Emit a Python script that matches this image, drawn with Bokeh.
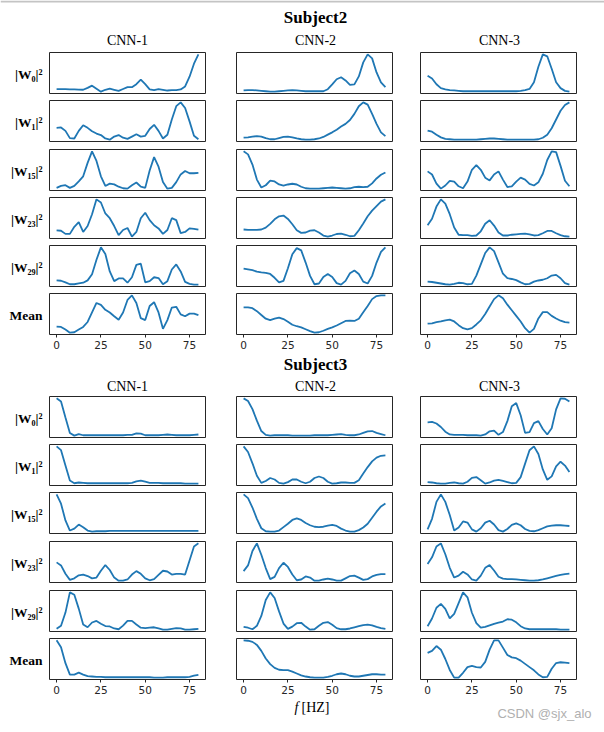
from bokeh.plotting import figure
from bokeh.layouts import column, row
from bokeh.models import Range1d, DataRange1d, LinearAxis, FixedTicker, Span
from bokeh.core.properties import value
from bokeh.embed import file_html
from bokeh.resources import INLINE

# ---------------- data ----------------
freq = [0.0, 2.5, 5.0, 7.5, 10.0, 12.5, 15.0, 17.5, 20.0, 22.5, 25.0, 27.5, 30.0,
        32.5, 35.0, 37.5, 40.0, 42.5, 45.0, 47.5, 50.0, 52.5, 55.0, 57.5, 60.0,
        62.5, 65.0, 67.5, 70.0, 72.5, 75.0, 77.5, 80.0]
xticks = [0, 25, 50, 75]
subjects = ["Subject2", "Subject3"]
models = ["CNN-1", "CNN-2", "CNN-3"]
row_labels = ["|W\u2080|\u00b2", "|W\u2081|\u00b2", "|W\u2081\u2085|\u00b2",
              "|W\u2082\u2083|\u00b2", "|W\u2082\u2089|\u00b2", "Mean"]

# Subject2, CNN-1
s2_c1_w0 = [0.07, 0.07, 0.065, 0.06, 0.06, 0.055, 0.05, 0.1, 0.16, 0.08, 0.0, 0.05, 0.08, 0.05, 0.02, 0.07, 0.12,
            0.12, 0.2, 0.32, 0.2, 0.06, 0.04, 0.07, 0.05, 0.03, 0.04, 0.04, 0.06, 0.14, 0.4, 0.75, 1.0]
s2_c1_w1 = [0.33, 0.34, 0.25, 0.06, 0.05, 0.25, 0.4, 0.33, 0.24, 0.18, 0.14, 0.05, 0.02, 0.1, 0.14, 0.07, 0.04,
            0.1, 0.16, 0.1, 0.12, 0.3, 0.41, 0.25, 0.05, 0.15, 0.55, 0.9, 1.0, 0.85, 0.5, 0.12, 0.03]
s2_c1_w15 = [0.05, 0.1, 0.12, 0.05, 0.1, 0.22, 0.35, 0.7, 1.0, 0.75, 0.35, 0.1, 0.16, 0.14, 0.08, 0.04, 0.03,
             0.12, 0.19, 0.08, 0.05, 0.5, 0.85, 0.6, 0.2, 0.03, 0.05, 0.2, 0.4, 0.49, 0.43, 0.43, 0.44]
s2_c1_w23 = [0.19, 0.18, 0.1, 0.1, 0.28, 0.4, 0.15, 0.3, 0.6, 0.98, 0.9, 0.62, 0.5, 0.3, 0.07, 0.2, 0.25,
             0.03, 0.15, 0.5, 0.64, 0.45, 0.32, 0.24, 0.1, 0.2, 0.5, 0.45, 0.12, 0.15, 0.24, 0.23, 0.21]
s2_c1_w29 = [0.12, 0.11, 0.07, 0.02, 0.02, 0.04, 0.06, 0.12, 0.28, 0.65, 0.97, 0.8, 0.35, 0.1, 0.17, 0.17, 0.06,
             0.2, 0.52, 0.55, 0.07, 0.1, 0.2, 0.18, 0.02, 0.1, 0.4, 0.53, 0.35, 0.08, 0.03, 0.01, 0.01]
s2_c1_mean = [0.18, 0.17, 0.1, 0.02, 0.03, 0.1, 0.17, 0.3, 0.55, 0.8, 0.75, 0.62, 0.55, 0.45, 0.36, 0.55, 0.88,
              1.0, 0.8, 0.4, 0.35, 0.72, 0.82, 0.55, 0.12, 0.35, 0.68, 0.7, 0.5, 0.45, 0.52, 0.52, 0.48]
# Subject2, CNN-2
s2_c2_w0 = [0.1, 0.11, 0.11, 0.1, 0.09, 0.08, 0.07, 0.07, 0.08, 0.09, 0.1, 0.11, 0.1, 0.09, 0.08, 0.08, 0.08,
            0.08, 0.08, 0.13, 0.25, 0.38, 0.43, 0.35, 0.24, 0.25, 0.45, 0.8, 1.0, 0.9, 0.55, 0.3, 0.18]
s2_c2_w1 = [0.06, 0.07, 0.09, 0.1, 0.09, 0.05, 0.02, 0.02, 0.05, 0.08, 0.09, 0.07, 0.04, 0.02, 0.01, 0.01, 0.02,
            0.04, 0.08, 0.14, 0.2, 0.27, 0.35, 0.42, 0.52, 0.68, 0.88, 0.98, 0.92, 0.68, 0.42, 0.2, 0.1]
s2_c2_w15 = [1.0, 0.92, 0.65, 0.25, 0.04, 0.1, 0.22, 0.2, 0.12, 0.09, 0.12, 0.14, 0.12, 0.06, 0.02, 0.01, 0.01,
             0.01, 0.02, 0.03, 0.04, 0.03, 0.02, 0.01, 0.02, 0.05, 0.06, 0.05, 0.06, 0.15, 0.28, 0.38, 0.44]
s2_c2_w23 = [0.2, 0.19, 0.19, 0.19, 0.2, 0.25, 0.35, 0.47, 0.55, 0.57, 0.48, 0.34, 0.18, 0.11, 0.12, 0.17, 0.18,
             0.12, 0.04, 0.01, 0.04, 0.08, 0.09, 0.06, 0.02, 0.03, 0.18, 0.36, 0.55, 0.7, 0.82, 0.94, 1.0]
s2_c2_w29 = [0.44, 0.42, 0.4, 0.36, 0.34, 0.33, 0.3, 0.2, 0.08, 0.12, 0.45, 0.82, 0.98, 0.92, 0.6, 0.25, 0.03,
             0.05, 0.22, 0.3, 0.22, 0.06, 0.02, 0.12, 0.32, 0.39, 0.3, 0.1, 0.05, 0.25, 0.6, 0.88, 1.0]
s2_c2_mean = [0.68, 0.68, 0.66, 0.58, 0.48, 0.38, 0.34, 0.38, 0.41, 0.37, 0.3, 0.22, 0.18, 0.15, 0.1, 0.05, 0.01,
              0.02, 0.06, 0.11, 0.15, 0.2, 0.26, 0.32, 0.33, 0.32, 0.38, 0.55, 0.72, 0.9, 0.98, 1.0, 1.0]
# Subject2, CNN-3
s2_c3_w0 = [0.42, 0.35, 0.2, 0.1, 0.07, 0.05, 0.04, 0.03, 0.02, 0.02, 0.02, 0.02, 0.02, 0.02, 0.02, 0.02, 0.02,
            0.02, 0.02, 0.02, 0.02, 0.03, 0.05, 0.08, 0.25, 0.65, 0.97, 0.92, 0.6, 0.25, 0.1, 0.03, 0.01]
s2_c3_w1 = [0.26, 0.23, 0.15, 0.08, 0.04, 0.03, 0.02, 0.02, 0.02, 0.02, 0.02, 0.02, 0.03, 0.04, 0.05, 0.05, 0.04,
            0.03, 0.02, 0.02, 0.02, 0.02, 0.02, 0.02, 0.02, 0.03, 0.07, 0.15, 0.32, 0.55, 0.78, 0.93, 1.0]
s2_c3_w15 = [0.46, 0.38, 0.15, 0.02, 0.1, 0.22, 0.2, 0.08, 0.03, 0.2, 0.5, 0.62, 0.5, 0.3, 0.23, 0.38, 0.46,
             0.25, 0.06, 0.08, 0.2, 0.3, 0.25, 0.14, 0.1, 0.18, 0.4, 0.75, 0.97, 0.95, 0.6, 0.22, 0.08]
s2_c3_w23 = [0.31, 0.48, 0.8, 0.99, 0.88, 0.6, 0.25, 0.06, 0.05, 0.05, 0.03, 0.04, 0.15, 0.35, 0.44, 0.3, 0.12,
             0.04, 0.04, 0.06, 0.07, 0.08, 0.09, 0.07, 0.04, 0.05, 0.1, 0.16, 0.16, 0.1, 0.05, 0.02, 0.01]
s2_c3_w29 = [0.09, 0.08, 0.06, 0.04, 0.02, 0.01, 0.03, 0.06, 0.05, 0.02, 0.03, 0.25, 0.55, 0.85, 1.0, 0.9, 0.6,
             0.3, 0.18, 0.16, 0.13, 0.07, 0.02, 0.03, 0.09, 0.12, 0.14, 0.18, 0.25, 0.27, 0.18, 0.05, 0.01]
s2_c3_mean = [0.24, 0.25, 0.28, 0.3, 0.33, 0.35, 0.3, 0.2, 0.12, 0.09, 0.12, 0.22, 0.33, 0.5, 0.7, 0.9, 1.0,
              0.92, 0.75, 0.6, 0.45, 0.3, 0.12, 0.0, 0.1, 0.38, 0.55, 0.55, 0.45, 0.38, 0.32, 0.28, 0.27]
# Subject3, CNN-1
s3_c1_w0 = [1.0, 0.92, 0.5, 0.1, 0.03, 0.07, 0.04, 0.04, 0.04, 0.04, 0.04, 0.04, 0.04, 0.04, 0.04, 0.04, 0.05,
            0.05, 0.09, 0.08, 0.04, 0.04, 0.04, 0.04, 0.05, 0.06, 0.05, 0.04, 0.04, 0.04, 0.04, 0.05, 0.06]
s3_c1_w1 = [1.0, 0.9, 0.5, 0.1, 0.03, 0.05, 0.04, 0.03, 0.03, 0.03, 0.03, 0.03, 0.03, 0.03, 0.03, 0.03, 0.03,
            0.04, 0.08, 0.1, 0.07, 0.04, 0.04, 0.04, 0.03, 0.03, 0.03, 0.03, 0.03, 0.02, 0.02, 0.02, 0.02]
s3_c1_w15 = [1.0, 0.75, 0.3, 0.03, 0.08, 0.19, 0.12, 0.03, 0.0, 0.01, 0.01, 0.01, 0.02, 0.02, 0.02, 0.02, 0.02,
             0.02, 0.02, 0.02, 0.02, 0.02, 0.02, 0.02, 0.02, 0.02, 0.02, 0.02, 0.02, 0.02, 0.02, 0.02, 0.02]
s3_c1_w23 = [0.5, 0.42, 0.2, 0.04, 0.08, 0.16, 0.18, 0.14, 0.08, 0.1, 0.28, 0.43, 0.3, 0.1, 0.02, 0.02, 0.05,
             0.18, 0.27, 0.2, 0.08, 0.03, 0.06, 0.17, 0.28, 0.26, 0.18, 0.2, 0.2, 0.18, 0.55, 0.92, 1.0]
s3_c1_w29 = [0.04, 0.12, 0.45, 0.96, 0.9, 0.55, 0.15, 0.08, 0.2, 0.24, 0.17, 0.11, 0.1, 0.05, 0.03, 0.12, 0.24,
             0.24, 0.15, 0.07, 0.06, 0.07, 0.08, 0.05, 0.02, 0.02, 0.04, 0.06, 0.05, 0.02, 0.02, 0.03, 0.04]
s3_c1_mean = [1.0, 0.82, 0.4, 0.1, 0.1, 0.15, 0.1, 0.06, 0.05, 0.04, 0.04, 0.03, 0.03, 0.03, 0.03, 0.03, 0.03,
              0.03, 0.03, 0.03, 0.03, 0.03, 0.02, 0.02, 0.02, 0.03, 0.03, 0.03, 0.03, 0.03, 0.04, 0.07, 0.09]
# Subject3, CNN-2
s3_c2_w0 = [1.0, 0.93, 0.72, 0.42, 0.15, 0.05, 0.03, 0.04, 0.04, 0.04, 0.04, 0.03, 0.03, 0.03, 0.03, 0.03, 0.04,
            0.04, 0.04, 0.04, 0.05, 0.06, 0.07, 0.05, 0.04, 0.04, 0.06, 0.1, 0.14, 0.15, 0.1, 0.07, 0.04]
s3_c2_w1 = [1.0, 0.85, 0.55, 0.22, 0.03, 0.08, 0.16, 0.12, 0.03, 0.01, 0.05, 0.12, 0.12, 0.06, 0.02, 0.06, 0.16,
            0.2, 0.16, 0.06, 0.01, 0.02, 0.04, 0.04, 0.03, 0.03, 0.1, 0.28, 0.45, 0.6, 0.7, 0.75, 0.76]
s3_c2_w15 = [1.0, 0.9, 0.65, 0.35, 0.1, 0.02, 0.01, 0.01, 0.04, 0.13, 0.22, 0.32, 0.36, 0.32, 0.24, 0.18, 0.14,
             0.13, 0.14, 0.17, 0.19, 0.16, 0.09, 0.04, 0.01, 0.01, 0.05, 0.12, 0.22, 0.38, 0.54, 0.68, 0.76]
s3_c2_w23 = [0.27, 0.42, 0.8, 1.0, 0.7, 0.35, 0.06, 0.12, 0.35, 0.49, 0.38, 0.18, 0.03, 0.05, 0.13, 0.1, 0.02,
             0.02, 0.05, 0.07, 0.05, 0.02, 0.02, 0.08, 0.14, 0.15, 0.1, 0.04, 0.06, 0.13, 0.17, 0.19, 0.19]
s3_c2_w29 = [0.09, 0.07, 0.03, 0.12, 0.38, 0.8, 1.0, 0.85, 0.5, 0.18, 0.04, 0.1, 0.19, 0.2, 0.1, 0.02, 0.03,
             0.12, 0.2, 0.22, 0.15, 0.06, 0.03, 0.03, 0.05, 0.08, 0.11, 0.14, 0.15, 0.13, 0.09, 0.06, 0.04]
s3_c2_mean = [1.0, 0.99, 0.96, 0.88, 0.72, 0.52, 0.37, 0.27, 0.22, 0.21, 0.21, 0.17, 0.12, 0.07, 0.04, 0.02, 0.01,
              0.01, 0.01, 0.03, 0.06, 0.1, 0.12, 0.1, 0.06, 0.04, 0.04, 0.06, 0.08, 0.1, 0.1, 0.09, 0.09]
# Subject3, CNN-3
s3_c3_w0 = [0.37, 0.38, 0.34, 0.25, 0.13, 0.06, 0.05, 0.05, 0.05, 0.04, 0.04, 0.04, 0.03, 0.06, 0.14, 0.16, 0.05,
            0.12, 0.4, 0.78, 0.86, 0.55, 0.1, 0.12, 0.35, 0.4, 0.2, 0.06, 0.22, 0.7, 0.98, 0.97, 0.9]
s3_c3_w1 = [0.07, 0.06, 0.04, 0.03, 0.03, 0.05, 0.06, 0.04, 0.03, 0.08, 0.18, 0.2, 0.12, 0.03, 0.06, 0.11, 0.13,
            0.1, 0.07, 0.04, 0.05, 0.2, 0.55, 0.9, 1.0, 0.8, 0.4, 0.13, 0.22, 0.48, 0.6, 0.5, 0.33]
s3_c3_w15 = [0.07, 0.35, 0.8, 1.0, 0.8, 0.45, 0.04, 0.12, 0.28, 0.25, 0.07, 0.01, 0.1, 0.25, 0.3, 0.2, 0.05,
             0.01, 0.08, 0.19, 0.23, 0.18, 0.08, 0.03, 0.02, 0.05, 0.1, 0.15, 0.17, 0.18, 0.18, 0.17, 0.16]
s3_c3_w23 = [0.45, 0.62, 0.9, 0.98, 0.7, 0.35, 0.1, 0.15, 0.25, 0.18, 0.05, 0.02, 0.15, 0.35, 0.42, 0.28, 0.12,
             0.07, 0.06, 0.06, 0.05, 0.04, 0.03, 0.02, 0.02, 0.03, 0.05, 0.08, 0.11, 0.14, 0.17, 0.19, 0.2]
s3_c3_w29 = [0.1, 0.3, 0.58, 0.68, 0.55, 0.3, 0.42, 0.7, 0.98, 0.85, 0.45, 0.18, 0.06, 0.08, 0.12, 0.16, 0.19,
             0.22, 0.28, 0.27, 0.2, 0.1, 0.04, 0.02, 0.02, 0.02, 0.02, 0.02, 0.02, 0.02, 0.01, 0.01, 0.01]
s3_c3_mean = [0.67, 0.72, 0.84, 0.75, 0.52, 0.25, 0.06, 0.06, 0.18, 0.32, 0.35, 0.32, 0.31, 0.45, 0.75, 0.98, 0.98,
              0.8, 0.62, 0.56, 0.54, 0.48, 0.4, 0.32, 0.24, 0.14, 0.07, 0.08, 0.28, 0.42, 0.44, 0.43, 0.42]

subject_rows = {
    "Subject2": [[s2_c1_w0, s2_c2_w0, s2_c3_w0], [s2_c1_w1, s2_c2_w1, s2_c3_w1],
                 [s2_c1_w15, s2_c2_w15, s2_c3_w15], [s2_c1_w23, s2_c2_w23, s2_c3_w23],
                 [s2_c1_w29, s2_c2_w29, s2_c3_w29], [s2_c1_mean, s2_c2_mean, s2_c3_mean]],
    "Subject3": [[s3_c1_w0, s3_c2_w0, s3_c3_w0], [s3_c1_w1, s3_c2_w1, s3_c3_w1],
                 [s3_c1_w15, s3_c2_w15, s3_c3_w15], [s3_c1_w23, s3_c2_w23, s3_c3_w23],
                 [s3_c1_w29, s3_c2_w29, s3_c3_w29], [s3_c1_mean, s3_c2_mean, s3_c3_mean]],
}

# ---------------- style / layout ----------------
SERIF = "Liberation Serif"
SANS = "DejaVu Sans"
LINE = "#1f77b4"
INK = "#262626"
FRAME_W, FRAME_H = 156, 41
COL_BR = [30, 27, 10]           # right borders of the three panel columns
LABEL_W = 48
FULL_W = LABEL_W + sum(1 + FRAME_W + b for b in COL_BR)
COL_CENTERS = [127, 315, 499]   # page x of column centres


def blank(w, h, x0, y_top):
    p = figure(frame_width=w, frame_height=h, x_range=Range1d(x0, x0 + w),
               y_range=Range1d(y_top + h, y_top), x_axis_location=None,
               y_axis_location=None, toolbar_location=None, output_backend="svg",
               min_border=0)
    p.outline_line_color = None
    p.grid.visible = False
    return p


def txt(p, x, y, t, size, style="normal", align="center", font=SERIF, color="black"):
    p.text(x=[x], y=[y], text=[t], text_font=value(font), text_font_size=value(size),
           text_font_style=style, text_align=align, text_baseline="middle",
           text_color=color)


def header(subject, y_top, h, w, subj_y, cnn_y):
    p = blank(w, h, 0, y_top)
    txt(p, 315, subj_y, subject, "17px", "bold")
    for cx, m in zip(COL_CENTERS, models):
        txt(p, cx, cnn_y, m, "14px")
    return p


def panel(ys, br, bb, axis):
    p = figure(frame_width=FRAME_W, frame_height=FRAME_H, x_range=Range1d(-4, 84),
               y_range=DataRange1d(range_padding=0.1), x_axis_location=None,
               y_axis_location=None, toolbar_location=None, output_backend="svg",
               min_border_left=1, min_border_right=br, min_border_top=1,
               min_border_bottom=bb)
    p.outline_line_color = INK
    p.outline_line_width = 1
    p.grid.visible = False
    p.line(freq, ys, line_color=LINE, line_width=1.8)
    if axis:
        ax = LinearAxis(ticker=FixedTicker(ticks=xticks, minor_ticks=[]),
                        axis_line_color=None, major_tick_in=0, major_tick_out=3,
                        major_tick_line_color=INK, minor_tick_out=0, minor_tick_in=0,
                        major_label_standoff=3,
                        major_label_text_font=SANS, major_label_text_font_size="10.5px",
                        major_label_text_color=INK)
        p.add_layout(ax, "below")
    return p


def subject_block(subject, fig_tops, last_h):
    blocks = []
    heights = [fig_tops[i + 1] - fig_tops[i] for i in range(5)] + [last_h]
    for i, (lab, series) in enumerate(zip(row_labels, subject_rows[subject])):
        h = heights[i]
        bb = h - 1 - FRAME_H
        lf = blank(LABEL_W, h, 0, fig_tops[i])
        txt(lf, 42, fig_tops[i] + 1 + FRAME_H / 2, lab, "13.5px", "bold", "right")
        panels = [panel(series[c], COL_BR[c], bb, i == 5) for c in range(3)]
        blocks.append(row(lf, *panels))
    return blocks


s2_tops = [51, 99, 148, 196, 244, 292]
s3_tops = [395, 443, 491, 540, 589, 637]

h1 = header("Subject2", 0, 51, 604, 17, 40)
h1.add_layout(Span(location=1, dimension="width", line_color="#c4c4c4", line_width=2))
rows2 = subject_block("Subject2", s2_tops, 61)
h2 = header("Subject3", 353, 42, FULL_W, 364, 386)
rows3 = subject_block("Subject3", s3_tops, 62)

foot = blank(596, 26, 0, 699)
txt(foot, 298, 707, "f", "14px", "italic", "right")
txt(foot, 301, 707, "[HZ]", "14px", "normal", "left")
txt(foot, 591, 713, "CSDN @sjx_alo", "13px", "normal", "right", "Liberation Sans", "#b0b0b0")

layout = column(h1, *rows2, h2, *rows3, foot)

open("out.html", "w").write(file_html(layout, INLINE))
